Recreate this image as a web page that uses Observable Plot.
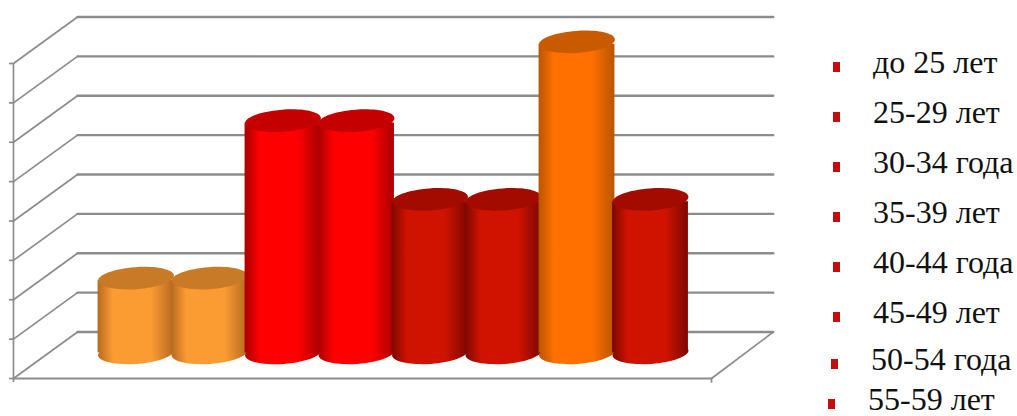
<!DOCTYPE html>
<html lang="ru">
<head>
<meta charset="utf-8">
<script src="https://cdn.jsdelivr.net/npm/d3@7"></script>
<script src="https://cdn.jsdelivr.net/npm/@observablehq/plot@0.6"></script>
<style>
  html, body { margin: 0; padding: 0; background: #fff; overflow: hidden; }
  #chart { position: relative; width: 1017px; height: 416px; overflow: hidden; }
  #chart svg { display: block; position: absolute; left: 0; top: 0; filter: blur(0.5px); }
  .lg { position: absolute; font-family: "Liberation Serif", serif; font-size: 32px; line-height: 28px; color: #111; white-space: nowrap; }
  .lg i { position: absolute; width: 7px; height: 10px; background: #c40d0d; }
</style>
</head>
<body>
<div id="chart"></div>
<script>
const categories = ["до 25 лет", "25-29 лет", "30-34 года", "35-39 лет", "40-44 года", "45-49 лет", "50-54 года", "55-59 лет"];
const values = [1.9, 1.9, 5.9, 5.9, 3.9, 3.9, 7.9, 3.9];
const barStyle = [0, 0, 1, 1, 2, 2, 3, 2];
const gridValues = [0, 1, 2, 3, 4, 5, 6, 7, 8];

// palette: edge, light, top
const edgeColors = ["#b8691f", "#a80000", "#7c0800", "#b85500"];
const midColors = ["#fb9c33", "#ff0000", "#d01200", "#ff7000"];
const topColors = ["#c97a26", "#c40000", "#a30b00", "#c95a00"];

// plot-space layout, in bar steps and value units
const xStart = -1.667, xEnd = 7.83, backEnd = 8.67, depthX = 0.871, depthY = 1.18, barDepth = 0.55, halfBar = 0.516;

// legend layout (text x, baseline y, marker x)
const legendX = [873, 873, 873, 873, 873, 873, 871, 868];
const legendBase = [73, 123, 173, 223, 273, 323, 370, 409.5];
const markX = [833, 833, 833, 833, 833, 833, 831, 828];

const ellipse = {
  draw(ctx, size) {
    const rx = Math.sqrt(size / Math.PI), ry = rx * 0.29, kx = rx * 0.5523, ky = ry * 0.5523;
    ctx.moveTo(-rx, 0);
    ctx.bezierCurveTo(-rx, -ky, -kx, -ry, 0, -ry);
    ctx.bezierCurveTo(kx, -ry, rx, -ky, rx, 0);
    ctx.bezierCurveTo(rx, ky, kx, ry, 0, ry);
    ctx.bezierCurveTo(-kx, ry, -rx, ky, -rx, 0);
    ctx.closePath();
  }
};

const defs = () => {
  const d = d3.create("svg:defs");
  midColors.forEach((mid, k) => {
    const g = d.append("linearGradient").attr("id", "cyl" + k).attr("x1", 0).attr("x2", 1).attr("y1", 0).attr("y2", 0);
    [[0, edgeColors[k]], [0.2, mid], [0.7, mid], [1, edgeColors[k]]].forEach(([o, c]) =>
      g.append("stop").attr("offset", o).attr("stop-color", c));
  });
  return d.node();
};

const bars = values.map((v, i) => ({i, v, k: barStyle[i], y0: barDepth * depthY, y1: v + barDepth * depthY}));
const gray = "#8c8c8c";

const diagonals = gridValues.flatMap(v => [
  {v, x: xStart, y: v},
  {v, x: xStart + depthX, y: v + depthY}
]);
const backLines = gridValues.flatMap(v => [
  {v, x: xStart + depthX, y: v + depthY},
  {v, x: backEnd, y: v + depthY}
]);
const floorEdge = [{x: backEnd, y: depthY}, {x: xEnd, y: 0}];
const frontEdge = [{x: xStart, y: 0}, {x: xEnd, y: 0}];

const barMarks = bars.flatMap(b => [
  Plot.dot([b], {x: "i", y: "y0", r: 38, symbol: ellipse, rotate: -4, fill: `url(#cyl${b.k})`}),
  Plot.rect([b], {x1: d => d.i - halfBar, x2: d => d.i + halfBar, y1: "y0", y2: d => d.y1 - 0.06, fill: `url(#cyl${b.k})`, inset: 0}),
  Plot.dot([b], {x: "i", y: "y1", r: 38, symbol: ellipse, rotate: -4, fill: topColors[b.k]})
]);

const plot = Plot.plot({
  width: 1017,
  height: 416,
  margin: 0,
  style: {background: "transparent"},
  x: {type: "linear", domain: [0, 1], range: [135.5, 209], axis: null},
  y: {type: "linear", domain: [0, 8], range: [378, 63], axis: null},
  marks: [
    defs,
    Plot.line(diagonals, {x: "x", y: "y", z: "v", stroke: gray, strokeWidth: 1.7}),
    Plot.line(backLines, {x: "x", y: "y", z: "v", stroke: gray, strokeWidth: 2.4}),
    Plot.line(floorEdge, {x: "x", y: "y", stroke: gray, strokeWidth: 1.7}),
    Plot.line(frontEdge, {x: "x", y: "y", stroke: gray, strokeWidth: 2.2}),
    Plot.ruleX([xStart], {y1: -0.1, y2: 8, stroke: gray, strokeWidth: 1.7}),
    Plot.ruleX([xEnd], {y1: -0.12, y2: 0, stroke: gray, strokeWidth: 1.7}),
    Plot.ruleY(gridValues, {x1: xStart - 0.055, x2: xStart, stroke: gray, strokeWidth: 1.7}),
    ...barMarks
  ]
});

const host = document.getElementById("chart");
host.appendChild(plot);
categories.forEach((c, i) => {
  const t = document.createElement("div");
  t.className = "lg";
  t.textContent = c;
  t.style.left = legendX[i] + "px";
  t.style.top = (legendBase[i] - 25) + "px";
  host.appendChild(t);
  const m = document.createElement("div");
  m.className = "lg";
  m.style.left = markX[i] + "px";
  m.style.top = (legendBase[i] - 11) + "px";
  m.appendChild(document.createElement("i"));
  host.appendChild(m);
});
</script>
</body>
</html>
